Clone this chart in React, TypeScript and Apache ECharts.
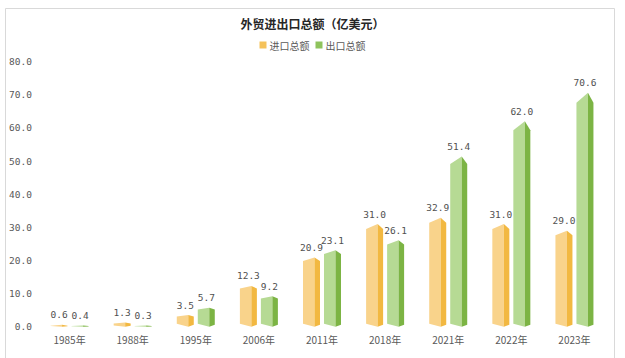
import React, { useEffect, useRef } from "react";
import * as echarts from "echarts";

const categories = ["1985年", "1988年", "1995年", "2006年", "2011年", "2018年", "2021年", "2022年", "2023年"];
const importValues = [0.6, 1.3, 3.5, 12.3, 20.9, 31.0, 32.9, 31.0, 29.0];
const exportValues = [0.4, 0.3, 5.7, 9.2, 23.1, 26.1, 51.4, 62.0, 70.6];
const yMin = 0;
const yMax = 80;
const yInterval = 10;

const FONT = '"Noto Sans CJK SC", "Noto Sans", sans-serif';
const NUMFONT = '"DejaVu Sans Mono", monospace';

function makeRender(offset: number, light: string, dark: string) {
  return (params: any, api: any) => {
    const idx = api.value(0);
    const v = api.value(1);
    const top = api.coord([idx, v]);
    const base = api.coord([idx, 0]);
    const cx = top[0] + offset;
    const lx = cx - 8.5;
    const jx = cx + 3;
    const rx = cx + 8.5;
    const b = base[1];
    const hgt = Math.max(b - top[1], 1.2);
    const pk = b - hgt;
    const cap = Math.min(1 + hgt * 0.038, hgt * 0.5);
    let shoulder = pk + cap;
    const lBottom = b - Math.min(3, hgt * 0.3);
    const rBottom = b - Math.min(2, hgt * 0.2);
    if (shoulder > lBottom) shoulder = lBottom;
    return {
      type: "group",
      children: [
        {
          type: "polygon",
          shape: { points: [[lx, shoulder], [jx, pk], [jx, b], [lx, lBottom]] },
          style: { fill: light },
        },
        {
          type: "polygon",
          shape: { points: [[jx, pk], [rx, Math.min(shoulder, rBottom)], [rx, rBottom], [jx, b]] },
          style: { fill: dark },
        },
        {
          type: "text",
          style: {
            text: v.toFixed(1),
            x: cx,
            y: pk - 10,
            align: "center",
            verticalAlign: "middle",
            fill: "#505050",
            font: `9.5px ${NUMFONT}`,
          },
        },
      ],
    };
  };
}

export default function App() {
  const ref = useRef<HTMLDivElement>(null);
  useEffect(() => {
    if (!ref.current) return;
    const chart = echarts.init(ref.current, undefined, { renderer: "svg" });
    chart.setOption({
      animation: false,
      backgroundColor: "#ffffff",
      title: {
        text: "外贸进出口总额（亿美元）",
        left: "center",
        top: 12,
        textStyle: { fontSize: 12, fontWeight: "bold", color: "#262626", fontFamily: FONT },
      },
      legend: {
        top: 35,
        left: "center",
        icon: "rect",
        itemWidth: 7,
        itemHeight: 7,
        itemGap: 6,
        textStyle: { fontSize: 10, color: "#595959", fontFamily: FONT, padding: [0, 0, 0, -2] },
        data: ["进口总额", "出口总额"],
      },
      grid: { left: 38, right: 19, top: 61.7, bottom: 31.3 },
      xAxis: {
        type: "category",
        data: categories,
        axisLine: { show: false },
        axisTick: { show: false },
        axisLabel: { color: "#595959", fontSize: 10, fontFamily: FONT, margin: 8 },
      },
      yAxis: {
        type: "value",
        min: yMin,
        max: yMax,
        interval: yInterval,
        splitLine: { show: false },
        axisLine: { show: false },
        axisTick: { show: false },
        axisLabel: {
          color: "#595959",
          fontSize: 9.5,
          fontFamily: NUMFONT,
          margin: 6,
          formatter: (v: number) => v.toFixed(1),
        },
      },
      graphic: [
        {
          type: "rect",
          shape: { x: 5.5, y: 8.5, width: 609, height: 360 },
          style: { fill: "none", stroke: "#d9d9d9", lineWidth: 1 },
          silent: true,
        },
      ],
      series: [
        {
          name: "进口总额",
          type: "custom",
          itemStyle: { color: "#f5c25a" },
          renderItem: makeRender(-10.5, "#f9d38b", "#f2b841"),
          data: importValues.map((v, i) => [i, v]),
          encode: { x: 0, y: 1 },
        },
        {
          name: "出口总额",
          type: "custom",
          itemStyle: { color: "#8fc35c" },
          renderItem: makeRender(10.5, "#b6da94", "#7cb444"),
          data: exportValues.map((v, i) => [i, v]),
          encode: { x: 0, y: 1 },
        },
      ],
    });
    return () => chart.dispose();
  }, []);
  return (
    <div
      ref={ref}
      style={{ position: "fixed", left: 0, top: 0, width: 625, height: 358 }}
    />
  );
}
